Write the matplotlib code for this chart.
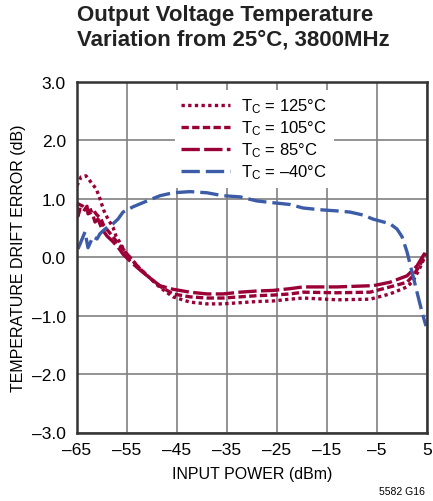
import matplotlib
matplotlib.use("Agg")
import matplotlib.pyplot as plt

plt.rcParams['font.family'] = ['Liberation Sans', 'DejaVu Sans']
plt.rcParams['mathtext.fontset'] = 'custom'
plt.rcParams['mathtext.rm'] = 'Liberation Sans'
plt.rcParams['mathtext.it'] = 'Liberation Sans'

# input power (dBm) and drift error (dB)
x_m40 = [-64.8, -63.4, -62.8, -61.8, -61, -60.4, -59.8, -58.8, -57.8, -56.8, -55.8, -53.8,
         -51, -48.4, -45.8, -42.4, -39, -35.8, -32.4, -29, -25.8, -22.4, -19.8, -16.4,
         -13, -10.4, -7.8, -5.8, -2.4, -1, 0, 1, 2, 3, 4, 4.8]
y_m40 = [0.14, 0.43, 0.16, 0.35, 0.31, 0.40, 0.45, 0.52, 0.57, 0.65, 0.77, 0.86,
         0.96, 1.05, 1.10, 1.12, 1.10, 1.05, 1.03, 0.96, 0.93, 0.90, 0.84, 0.81,
         0.79, 0.77, 0.72, 0.65, 0.57, 0.48, 0.35, 0.09, -0.25, -0.60, -0.94, -1.18]

x_125 = [-65, -64.2, -63.2, -62.2, -61.2, -60.6, -60.2, -59.6, -58.8, -57.8, -57.2, -56.2,
         -55.4, -52.4, -50.4, -48.4, -45.8, -42.4, -39, -35.8, -32.4, -29, -25.8, -22.4,
         -19.8, -13, -6.4, -2.4, 1, 2.2, 3.5, 4.8]
y_125 = [1.22, 1.37, 1.39, 1.28, 1.17, 1.05, 0.94, 0.79, 0.65, 0.51, 0.36, 0.22,
         0.09, -0.20, -0.36, -0.52, -0.68, -0.77, -0.80, -0.80, -0.78, -0.76, -0.75, -0.72,
         -0.70, -0.73, -0.72, -0.63, -0.51, -0.41, -0.20, 0.05]

x_105 = [-65, -63.8, -62.8, -61.8, -61.2, -60.2, -59.6, -58.6, -57.2, -55.8, -54, -52.4,
         -50.4, -48.4, -45.8, -42.4, -39, -35.8, -32.4, -29, -25.8, -22.4, -19.8, -13,
         -6.4, -2.4, 1, 2.2, 3.5, 4.8]
y_105 = [0.92, 0.87, 0.79, 0.82, 0.74, 0.65, 0.53, 0.43, 0.28, 0.14, -0.05, -0.20,
         -0.36, -0.50, -0.63, -0.68, -0.70, -0.70, -0.68, -0.66, -0.65, -0.63, -0.60, -0.61,
         -0.60, -0.51, -0.43, -0.32, -0.15, 0.07]

x_85 = [-65, -64.8, -64.4, -63.8, -63, -62.8, -62, -61.4, -60.8, -60, -59, -58,
        -56.8, -55.8, -54, -52.4, -50.4, -48.4, -45.8, -42.4, -39, -35.8, -32.4, -29,
        -25.8, -22.4, -19.8, -13, -6.4, -5.8, -2.4, 1, 3, 4.2, 4.8]
y_85 = [0.87, 0.70, 0.82, 0.77, 0.87, 0.74, 0.77, 0.60, 0.65, 0.48, 0.36, 0.28,
        0.17, 0.05, -0.10, -0.22, -0.36, -0.49, -0.55, -0.60, -0.63, -0.63, -0.60, -0.58,
        -0.57, -0.54, -0.51, -0.51, -0.49, -0.49, -0.43, -0.32, -0.15, 0.02, 0.10]

xticks = [-65, -55, -45, -35, -25, -15, -5, 5]
yticks = [-3, -2, -1, 0, 1, 2, 3]

red = '#9a0036'
blue = '#3c5ca8'

fig = plt.figure(figsize=(4.33, 5.02), dpi=100)
ax = fig.add_axes([77 / 433, 1 - 433.5 / 502, 350 / 433, 350.8 / 502])

lw = 2.4
ax.plot(x_125, y_125, color=red, lw=lw, ls=(0, (1.0, 1.0)), label=r'T$_\mathrm{C}$ = 125°C')
ax.plot(x_105, y_105, color=red, lw=lw, ls=(0, (2.2, 1.0)), label=r'T$_\mathrm{C}$ = 105°C')
ax.plot(x_85, y_85, color=red, lw=lw, ls=(0, (5.5, 1.3)), label=r'T$_\mathrm{C}$ = 85°C')
ax.plot(x_m40, y_m40, color=blue, lw=lw, ls=(0, (5.5, 1.8)), label=r'T$_\mathrm{C}$ = –40°C')

ax.set_xlim(-65, 5)
ax.set_ylim(-3, 3)
ax.set_xticks(xticks)
ax.set_xticklabels([f'{v}'.replace('-', '–') for v in xticks])
ax.set_yticks(yticks)
ax.set_yticklabels([f'{v:.1f}'.replace('-', '–') for v in yticks])
ax.tick_params(axis='x', length=0, labelsize=12.5, pad=7)
ax.tick_params(axis='y', length=0, labelsize=12.5, pad=8)
ax.grid(True, color='#808080', lw=1.2)
for s in ax.spines.values():
    s.set_color('#333333')
    s.set_linewidth(1.8)

ax.set_xlabel('INPUT POWER (dBm)', fontsize=11.5, labelpad=6)
ax.set_ylabel('TEMPERATURE DRIFT ERROR (dB)', fontsize=11.5, labelpad=4)

leg = ax.legend(loc='upper left', bbox_to_anchor=(0.255, 1.0), frameon=True,
                fontsize=12, handlelength=2.9, handletextpad=0.7, labelspacing=0.2,
                borderpad=0.4, fancybox=False)
leg.get_frame().set_edgecolor('none')
leg.get_frame().set_facecolor('white')
leg.get_frame().set_alpha(1)

fig.text(77 / 433, 1 - 5 / 502, 'Output Voltage Temperature\nVariation from 25°C, 3800MHz',
         fontsize=16, fontweight='bold', va='top', ha='left', color='#222222', linespacing=1.2)
fig.text(425 / 433, 1 - 497 / 502, '5582 G16', fontsize=7.5, ha='right', va='bottom')

fig.savefig('out.png', dpi=100)
